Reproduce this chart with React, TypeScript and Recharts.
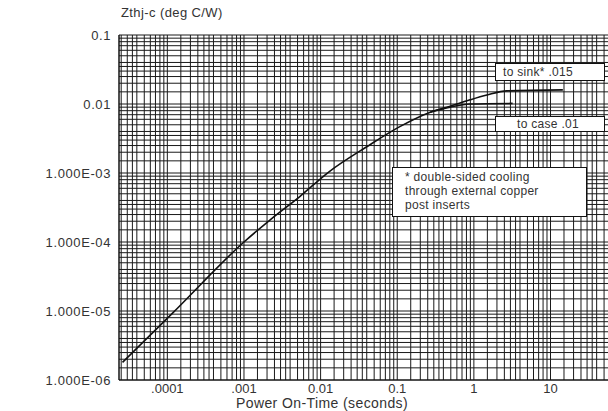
import React from "react";
import {
  LineChart,
  Line,
  XAxis,
  YAxis,
  CartesianGrid,
} from "recharts";

// time (s) / impedance (deg C/W)
const sinkTime = [2.6e-5, 1.17e-4, 1.0e-3, 2.2e-3, 5.4e-3, 0.013, 0.04, 0.108, 0.27, 0.49, 0.89, 1.48, 2.7, 14.5];
const sinkZth = [1.8e-6, 9.3e-6, 1.0e-4, 2.1e-4, 4.6e-4, 1.05e-3, 2.4e-3, 4.7e-3, 7.6e-3, 9.3e-3, 0.0115, 0.0135, 0.0155, 0.016];
const caseTime = [0.27, 0.49, 0.89, 3.2];
const caseZth = [7.6e-3, 9.0e-3, 0.0100, 0.0102];

const xDecades = [1e-5, 1e-4, 1e-3, 1e-2, 1e-1, 1, 10];
const xTickLabels = ["", ".0001", ".001", "0.01", "0.1", "1", "10"];
const yDecades = [1e-6, 1e-5, 1e-4, 1e-3, 1e-2, 1e-1];
const yTickLabels = ["1.000E-06", "1.000E-05", "1.000E-04", "1.000E-03", "0.01", "0.1"];
const minorSteps = [1, 1.5, 2, 2.5, 3, 3.5, 4, 5, 6, 7, 8, 9];

const X_MIN = 2.34e-5;
const X_MAX = 80.7;

const sinkData = sinkTime.map((t, i) => ({ t, z: sinkZth[i] }));
const caseData = caseTime.map((t, i) => ({ t, z: caseZth[i] }));

const xTicks = xDecades
  .flatMap((d) => minorSteps.map((m) => d * m))
  .filter((v) => v >= X_MIN && v <= X_MAX);
const yTicks = yDecades
  .flatMap((d) => minorSteps.map((m) => d * m))
  .filter((v) => v <= 0.1 * 1.0001);

const decadeLabel = (v: number, decades: number[], labels: string[]) => {
  const lg = Math.log10(v);
  if (Math.abs(lg - Math.round(lg)) > 1e-6) return "";
  const idx = decades.findIndex((d) => Math.abs(Math.log10(d) - lg) < 1e-6);
  return idx >= 0 ? labels[idx] : "";
};

const FONT = "'Liberation Sans', Arial, sans-serif";

const boxStyle: React.CSSProperties = {
  position: "absolute",
  background: "#fff",
  border: "1px solid #111",
  fontFamily: FONT,
  fontSize: 12,
  letterSpacing: 0.3,
  color: "#333",
  boxSizing: "border-box",
  whiteSpace: "nowrap",
};

export default function App() {
  return (
    <div
      style={{
        position: "absolute",
        left: 0,
        top: 0,
        width: 608,
        height: 411,
        overflow: "hidden",
        background: "#fff",
      }}
    >
      <LineChart
        width={620}
        height={411}
        margin={{ top: 35, right: 0, bottom: 0, left: 0 }}
      >
        <CartesianGrid stroke="#1a1a1a" strokeWidth={1} />
        <XAxis
          dataKey="t"
          type="number"
          scale="log"
          domain={[X_MIN, X_MAX]}
          allowDataOverflow
          ticks={xTicks}
          interval={0}
          height={31}
          tickLine={false}
          tickSize={0}
          tickMargin={4}
          axisLine={{ stroke: "#111" }}
          tickFormatter={(v: number) => decadeLabel(v, xDecades, xTickLabels)}
          tick={{ fontFamily: FONT, fontSize: 13, fill: "#333" }}
        />
        <YAxis
          dataKey="z"
          type="number"
          scale="log"
          domain={[1e-6, 0.1]}
          allowDataOverflow
          ticks={yTicks}
          interval={0}
          width={119}
          tickLine={false}
          tickSize={0}
          tickMargin={8}
          axisLine={{ stroke: "#111" }}
          tickFormatter={(v: number) => decadeLabel(v, yDecades, yTickLabels)}
          tick={{ fontFamily: FONT, fontSize: 13, fill: "#333", letterSpacing: 0.6 }}
        />
        <Line
          data={sinkData}
          dataKey="z"
          type="monotone"
          stroke="#111"
          strokeWidth={1.6}
          dot={false}
          isAnimationActive={false}
        />
        <Line
          data={caseData}
          dataKey="z"
          type="monotone"
          stroke="#111"
          strokeWidth={1.6}
          dot={false}
          isAnimationActive={false}
        />
      </LineChart>

      <div
        style={{
          position: "absolute",
          left: 121,
          top: 5,
          fontFamily: FONT,
          fontSize: 13,
          letterSpacing: 0.4,
          color: "#333",
        }}
      >
        Zthj-c (deg C/W)
      </div>
      <div
        style={{
          position: "absolute",
          left: 236,
          top: 395,
          fontFamily: FONT,
          fontSize: 14,
          letterSpacing: 0.4,
          color: "#333",
        }}
      >
        Power On-Time (seconds)
      </div>

      <div style={{ ...boxStyle, left: 495, top: 63, width: 110, height: 18, paddingLeft: 7, lineHeight: "16px" }}>
        to sink* .015
      </div>
      <div style={{ ...boxStyle, left: 495, top: 116, width: 110, height: 16, paddingLeft: 21, lineHeight: "14px" }}>
        to case .01
      </div>
      <div
        style={{
          ...boxStyle,
          left: 392,
          top: 167,
          width: 195,
          height: 50,
          paddingLeft: 12,
          paddingTop: 2,
          lineHeight: "14px",
        }}
      >
        * double-sided cooling
        <br />
        through external copper
        <br />
        post inserts
      </div>
    </div>
  );
}
